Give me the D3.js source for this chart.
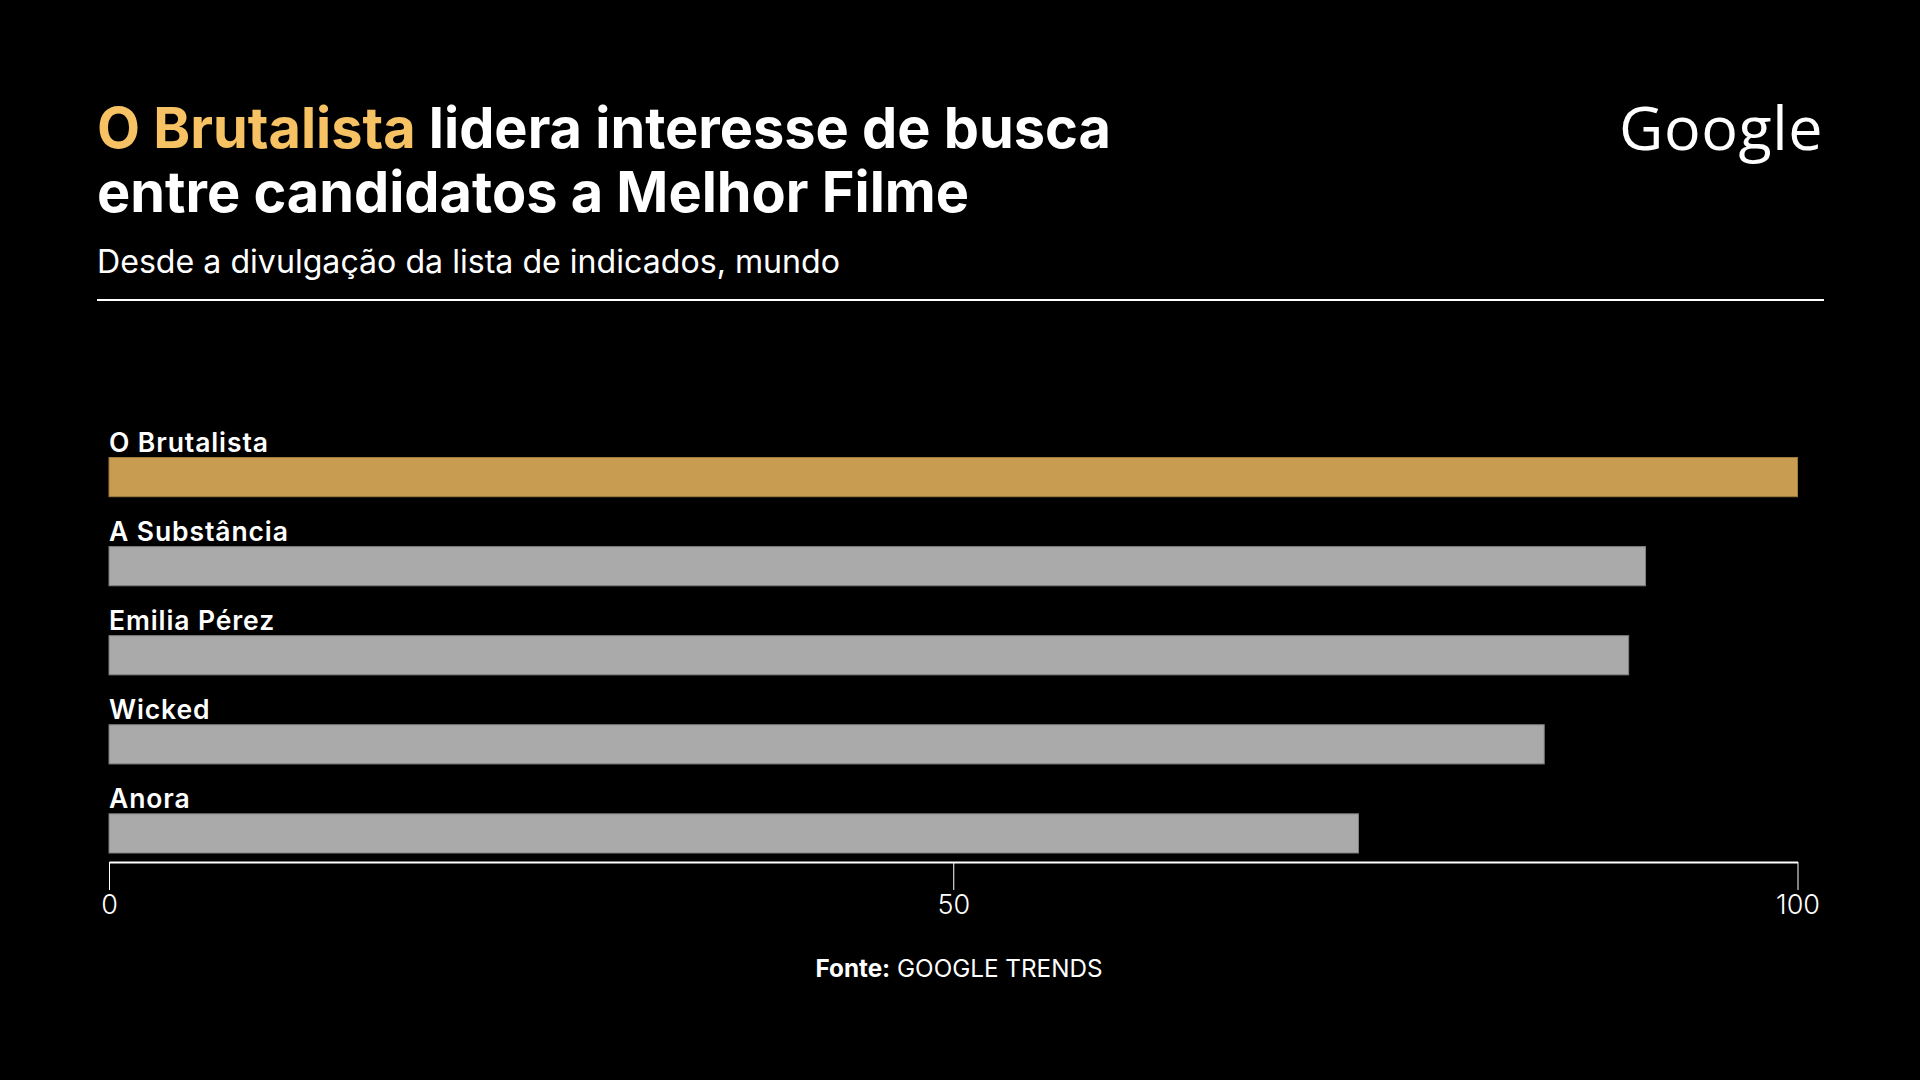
<!DOCTYPE html>
<html lang="pt">
<head>
  <meta charset="utf-8">
  <script src="https://d3js.org/d3.v7.min.js"></script>
  <style>
    body { margin: 0; background: #000; }
    svg { display: block; }
    text { font-family: "Inter", "Noto Sans", sans-serif; fill: #fff; }
  </style>
</head>
<body>
<script>
  // chart data
  const categories = ["O Brutalista", "A Substância", "Emilia Pérez", "Wicked", "Anora"];
  const values = [100, 91, 90, 85, 74];
  const highlight = "O Brutalista";
  const xTicks = [0, 50, 100];

  const width = 1920, height = 1080;
  const gold = "#c99d51", grey = "#aaaaaa";

  const svg = d3.select("body").append("svg")
    .attr("width", width)
    .attr("height", height);

  svg.append("rect").attr("width", width).attr("height", height).attr("fill", "#000");

  // shrink/grow a text's font-size so it spans a target width
  function fitWidth(sel, target) {
    const fs = parseFloat(sel.attr("font-size"));
    const w = sel.node().getComputedTextLength();
    sel.attr("font-size", (fs * target / w).toFixed(2));
  }
  // keep the font-size, spread letters to reach a target width
  function fitSpacing(sel, target) {
    const n = sel.text().length;
    const w = sel.node().getComputedTextLength();
    sel.attr("letter-spacing", ((target - w) / n).toFixed(2));
  }

  // title
  const t1 = svg.append("text")
    .attr("x", 97).attr("y", 148)
    .attr("font-size", 53).attr("font-weight", 700);
  t1.append("tspan").attr("fill", "#f6c263").style("fill", "#f6c263").text("O Brutalista");
  t1.append("tspan").text(" lidera interesse de busca");
  fitWidth(t1, 1014);

  svg.append("text")
    .attr("x", 97).attr("y", 212)
    .attr("font-size", t1.attr("font-size")).attr("font-weight", 700)
    .text("entre candidatos a Melhor Filme");

  const sub = svg.append("text")
    .attr("x", 97).attr("y", 273)
    .attr("font-size", 29).attr("font-weight", 400)
    .text("Desde a divulgação da lista de indicados, mundo");
  fitWidth(sub, 743);

  svg.append("line")
    .attr("x1", 97).attr("x2", 1824)
    .attr("y1", 300).attr("y2", 300)
    .attr("stroke", "#fff").attr("stroke-width", 2);

  // logo
  const logo = svg.append("text")
    .attr("x", 1619).attr("y", 150)
    .attr("font-size", 61).attr("font-weight", 500)
    .style("font-family", "'Open Sans', sans-serif")
    .text("Google");
  fitSpacing(logo, 204);

  // scales
  const x = d3.scaleLinear().domain([0, 100]).range([109, 1797.5]);
  const y = d3.scaleBand().domain(categories).range([457.5, 853]).paddingInner(0.56).paddingOuter(0);

  const rows = categories.map((c, i) => ({ name: c, value: values[i] }));

  svg.append("g").selectAll("rect")
    .data(rows)
    .join("rect")
    .attr("x", x(0))
    .attr("y", d => y(d.name))
    .attr("width", d => x(d.value) - x(0))
    .attr("height", y.bandwidth())
    .attr("fill", d => d.name === highlight ? gold : grey)
    .attr("stroke", d => d.name === highlight ? "#9c7a3d" : "#7f7f7f")
    .attr("stroke-width", 1);

  svg.append("g").selectAll("text")
    .data(rows)
    .join("text")
    .attr("x", x(0))
    .attr("y", d => y(d.name) - 6)
    .attr("font-size", 26.5)
    .attr("font-weight", 600)
    .attr("letter-spacing", 0.9)
    .text(d => d.name);

  // x axis
  const axis = svg.append("g")
    .attr("transform", "translate(0,862)")
    .call(d3.axisBottom(x).tickValues(xTicks).tickSize(28).tickSizeOuter(0).tickPadding(5));
  axis.select(".domain").attr("stroke", "#fff").attr("stroke-width", 2);
  axis.selectAll(".tick line").attr("stroke", "#fff").attr("stroke-width", 1);
  axis.selectAll(".tick text")
    .attr("fill", "#fff")
    .attr("font-size", 27)
    .attr("font-weight", 300)
    .style("font-family", "Inter, sans-serif");

  // source
  const src = svg.append("text")
    .attr("x", 959).attr("y", 977)
    .attr("text-anchor", "middle")
    .attr("font-size", 22);
  src.append("tspan").attr("font-weight", 700).text("Fonte:");
  src.append("tspan").attr("font-weight", 400).text(" GOOGLE TRENDS");
  fitWidth(src, 287);
</script>
</body>
</html>
